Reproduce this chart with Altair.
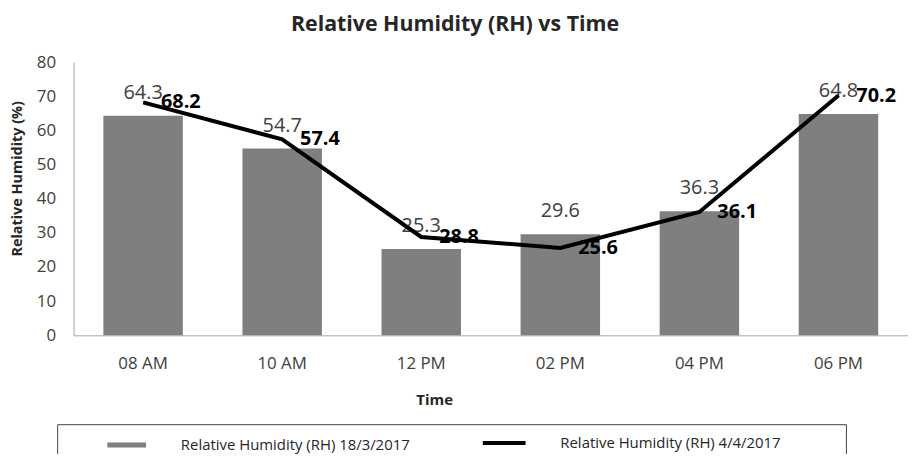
import altair as alt
import pandas as pd

times = ["08 AM", "10 AM", "12 PM", "02 PM", "04 PM", "06 PM"]
rh_mar18 = [64.3, 54.7, 25.3, 29.6, 36.3, 64.8]
rh_apr4 = [68.2, 57.4, 28.8, 25.6, 36.1, 70.2]
series_bar = "Relative Humidity (RH) 18/3/2017"
series_line = "Relative Humidity (RH) 4/4/2017"
y_ticks = [0, 10, 20, 30, 40, 50, 60, 70, 80]

df = pd.DataFrame({
    "time": times, "bar": rh_mar18, "line": rh_apr4,
    "s_bar": [series_bar] * len(times), "s_line": [series_line] * len(times),
})

FONT = "Open Sans"
AXIS_GRAY = "#a6a6a6"
TEXT_GRAY = "#404040"

x = alt.X(
    "time:N",
    sort=times,
    scale=alt.Scale(paddingInner=0.4286, paddingOuter=0.2143),
    axis=alt.Axis(
        title="Time", labelAngle=0, ticks=False, domainColor=AXIS_GRAY,
        labelPadding=20, labelFont=FONT, labelFontSize=17, labelColor=TEXT_GRAY,
        titleFont=FONT, titleFontSize=15, titleFontWeight="bold", titleColor="#262626",
        titleX=363, titleY=65, titleAlign="center", titleBaseline="middle",
    ),
)

y_axis = alt.Axis(
    values=y_ticks, tickCount=9, grid=False, ticks=False, domainColor=AXIS_GRAY,
    labelOverlap=False, labelPadding=18, labelFont=FONT, labelFontSize=17,
    labelColor=TEXT_GRAY,
    title="Relative Humidity (%)", titleFont=FONT, titleFontSize=14.5,
    titleFontWeight="bold", titleColor="#262626",
    titleX=-56, titleY=117, titleAlign="center", titleBaseline="middle", titleAngle=270,
)
y_scale = alt.Scale(domain=[0, 80])


def y_of(field):
    return alt.Y(field + ":Q", scale=y_scale, axis=y_axis)


bars = alt.Chart(df).mark_bar().encode(
    x=x,
    y=y_of("bar"),
    fill=alt.Fill(
        "s_bar:N",
        scale=alt.Scale(domain=[series_bar], range=["#7f7f7f"]),
        legend=alt.Legend(
            title=None, orient="none", legendX=32, legendY=364, padding=0,
            symbolType="M-0.907,-0.116H0.907V0.116H-0.907Z", symbolSize=1849,
            symbolStrokeWidth=0, labelFont=FONT, labelFontSize=15, labelColor="#262626",
            labelOffset=33, labelLimit=400,
        ),
    ),
)

bar_text = alt.Chart(df).mark_text(
    font=FONT, fontSize=20, color=TEXT_GRAY, align="center", baseline="middle", dy=-23
).encode(x=x, y=y_of("bar"), text=alt.Text("bar:Q", format=".1f"))

line = alt.Chart(df).mark_line(strokeWidth=4).encode(
    x=x,
    y=y_of("line"),
    stroke=alt.Stroke(
        "s_line:N",
        scale=alt.Scale(domain=[series_line], range=["#000000"]),
        legend=alt.Legend(
            title=None, orient="none", legendX=410, legendY=360, padding=0,
            symbolType="M-1,0H1", symbolSize=1849, symbolStrokeWidth=4,
            labelFont=FONT, labelFontSize=15, labelColor="#262626", labelOffset=33,
            labelLimit=400,
        ),
    ),
)

line_text = alt.Chart(df).mark_text(
    font=FONT, fontSize=20, fontWeight="bold", color="#000000", align="left",
    baseline="middle", dx=18
).encode(x=x, y=y_of("line"), text=alt.Text("line:Q", format=".1f"))

box = alt.Chart(pd.DataFrame({"k": [0]})).mark_rect(
    fill="transparent", stroke="#404040", strokeWidth=1
).encode(x=alt.value(-16), x2=alt.value(778), y=alt.value(365), y2=alt.value(420))

chart = alt.layer(bars, bar_text, line, line_text, box).properties(
    width=840,
    height=275,
    title=alt.TitleParams(
        "Relative Humidity (RH) vs Time", font=FONT, fontSize=21.5, fontWeight="bold",
        color="#262626", anchor="middle", dx=-36, offset=18,
    ),
    autosize=alt.AutoSizeParams(type="none"),
    padding={"left": 66, "top": 53, "right": 0, "bottom": 118},
).configure_view(stroke=None)

chart.save("out.html", embed_options={"renderer": "svg", "actions": False})
